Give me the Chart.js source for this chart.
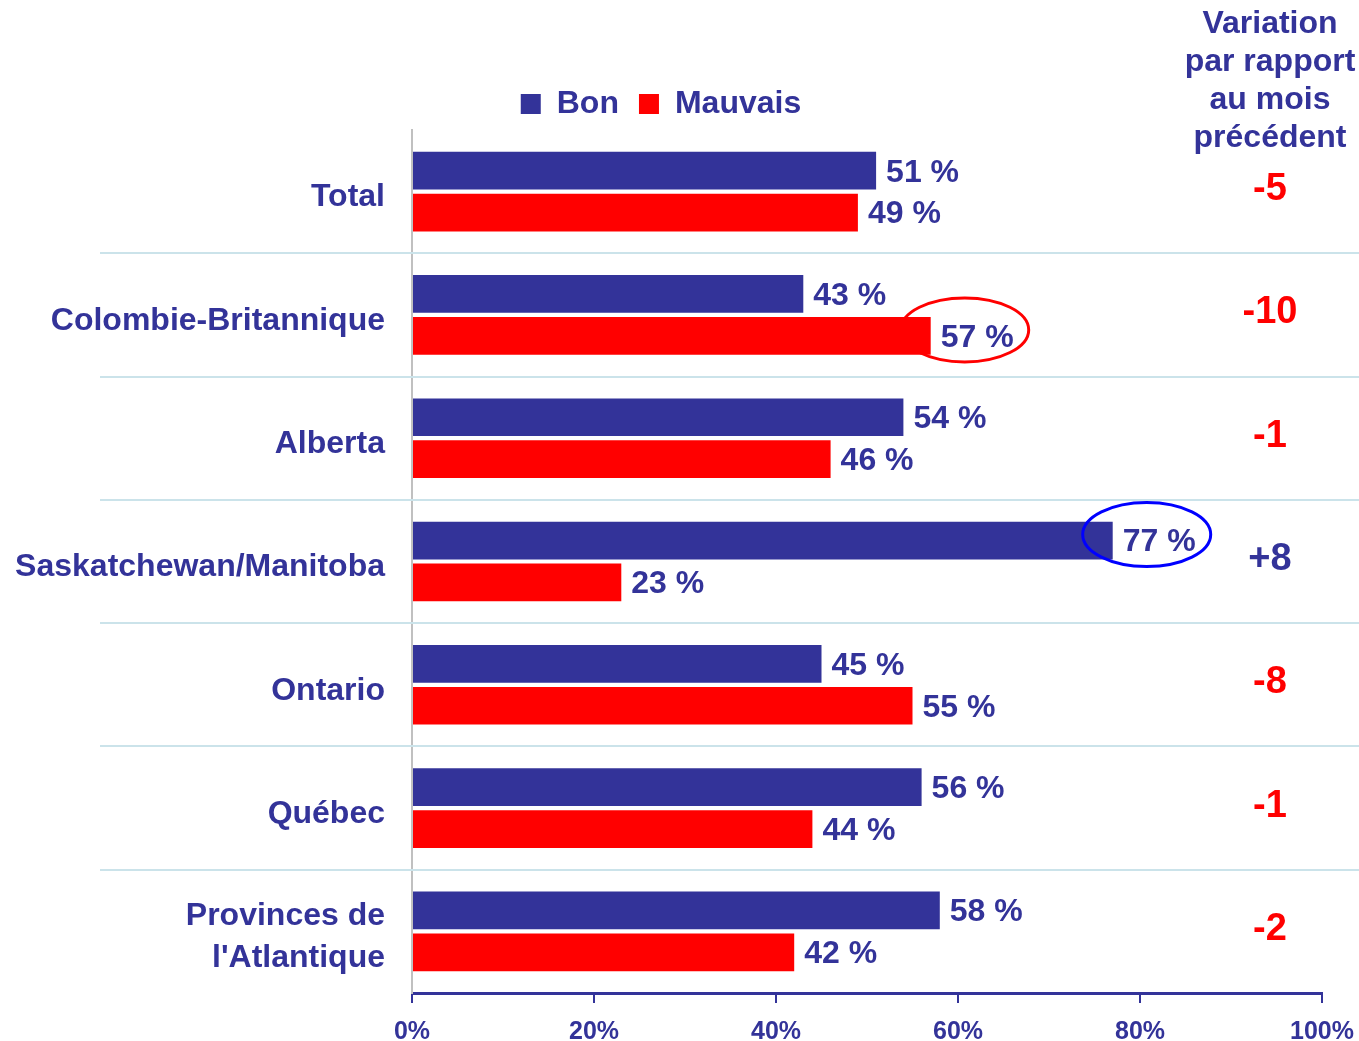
<!DOCTYPE html>
<html>
<head>
<meta charset="utf-8">
<script src="https://cdn.jsdelivr.net/npm/chart.js@4/dist/chart.umd.min.js"></script>
<style>
    html, body { margin: 0; padding: 0; background: #ffffff; }
    #wrap { width: 1359px; height: 1041px; position: relative; }
</style>
</head>
<body>
<div id="wrap"><canvas id="chart"></canvas></div>
<script>
// Chart data
const regions = ['Total', 'Colombie-Britannique', 'Alberta', 'Saskatchewan/Manitoba', 'Ontario', 'Québec', ['Provinces de', "l'Atlantique"]];
const bonValues = [51, 43, 54, 77, 45, 56, 58];
const mauvaisValues = [49, 57, 46, 23, 55, 44, 42];
const variations = [-5, -10, -1, 8, -8, -1, -2];
const variationHeader = ['Variation', 'par rapport', 'au mois', 'précédent'];
const xTicks = [0, 20, 40, 60, 80, 100];
// circled values: [dataset index, region index]
const highlights = [[1, 1], [0, 3]];

const NAVY = '#333399';
const RED = '#ff0000';
const FONT = "'Liberation Sans', Arial, sans-serif";

// Separator lines, value labels, circles and the variation column
const annotationsPlugin = {
    id: 'annotations',
    beforeDatasetsDraw(chart) {
        const { ctx } = chart;
        const yScale = chart.scales.y;
        ctx.save();
        ctx.strokeStyle = '#cbe3ea';
        ctx.lineWidth = 2;
        for (let i = 0; i < regions.length - 1; i++) {
            const y = Math.round((yScale.getPixelForValue(i) + yScale.getPixelForValue(i + 1)) / 2);
            ctx.beginPath();
            ctx.moveTo(100, y);
            ctx.lineTo(chart.width, y);
            ctx.stroke();
        }
        ctx.restore();
    },
    afterDatasetsDraw(chart) {
        const { ctx } = chart;
        ctx.save();
        ctx.font = `bold 32px ${FONT}`;
        ctx.fillStyle = NAVY;
        ctx.textAlign = 'left';
        ctx.textBaseline = 'middle';
        chart.data.datasets.forEach((ds, d) => {
            chart.getDatasetMeta(d).data.forEach((bar, i) => {
                ctx.fillText(`${ds.data[i]} %`, bar.x + 10, bar.y + 2);
            });
        });

        // circles round the notable values
        ctx.lineWidth = 3;
        highlights.forEach(([d, i]) => {
            const bar = chart.getDatasetMeta(d).data[i];
            ctx.strokeStyle = d === 0 ? '#0000ff' : RED;
            ctx.beginPath();
            ctx.ellipse(bar.x + 34, bar.y - 6, 64, 32, 0, 0, Math.PI * 2);
            ctx.stroke();
        });
        ctx.restore();
    },
    afterDraw(chart) {
        const { ctx } = chart;
        const yScale = chart.scales.y;
        const cx = 1270;
        ctx.save();
        ctx.textAlign = 'center';
        ctx.textBaseline = 'middle';
        ctx.font = `bold 32px ${FONT}`;
        ctx.fillStyle = NAVY;
        variationHeader.forEach((line, k) => {
            ctx.fillText(line, cx, 24 + k * 38);
        });
        ctx.font = `bold 38px ${FONT}`;
        variations.forEach((v, i) => {
            ctx.fillStyle = v > 0 ? NAVY : RED;
            ctx.fillText(v > 0 ? `+${v}` : `${v}`, cx, yScale.getPixelForValue(i) - 2);
        });
        ctx.restore();
    }
};

const ctx = document.getElementById('chart');

const chart = new Chart(ctx, {
    type: 'bar',
    data: {
        labels: regions,
        datasets: [
            {
                label: 'Bon',
                data: bonValues,
                backgroundColor: NAVY,
                categoryPercentage: 0.68,
                barPercentage: 0.9
            },
            {
                label: 'Mauvais',
                data: mauvaisValues,
                backgroundColor: RED,
                categoryPercentage: 0.68,
                barPercentage: 0.9
            }
        ]
    },
    options: {
        indexAxis: 'y',
        responsive: true,
        maintainAspectRatio: false,
        animation: false,
        layout: {
            padding: { top: 68, right: 37, left: 0, bottom: 0 }
        },
        plugins: {
            legend: {
                position: 'top',
                labels: {
                    boxWidth: 20,
                    boxHeight: 20,
                    padding: 20,
                    color: NAVY,
                    font: { family: FONT, size: 32, weight: 'bold' }
                }
            },
            tooltip: { enabled: false }
        },
        scales: {
            x: {
                min: 0,
                max: 100,
                afterBuildTicks: scale => {
                    scale.ticks = xTicks.map(v => ({ value: v }));
                },
                afterFit: scale => {
                    scale.height = 48;
                    scale.paddingLeft = 0;
                    scale.paddingRight = 0;
                },
                grid: {
                    drawOnChartArea: false,
                    drawTicks: true,
                    tickLength: 10,
                    color: NAVY,
                    lineWidth: 2
                },
                border: { color: NAVY, width: 3 },
                ticks: {
                    padding: 14,
                    color: NAVY,
                    font: { family: FONT, size: 25, weight: 'bold' },
                    callback: v => v + '%'
                }
            },
            y: {
                afterFit: scale => {
                    scale.width = 412;
                },
                grid: {
                    drawOnChartArea: false,
                    drawTicks: false
                },
                border: { color: '#c0c0c0', width: 2 },
                ticks: {
                    padding: 27,
                    labelOffset: 6,
                    color: NAVY,
                    font: { family: FONT, size: 32, weight: 'bold', lineHeight: 1.3 }
                }
            }
        }
    },
    plugins: [annotationsPlugin]
});
</script>
</body>
</html>
